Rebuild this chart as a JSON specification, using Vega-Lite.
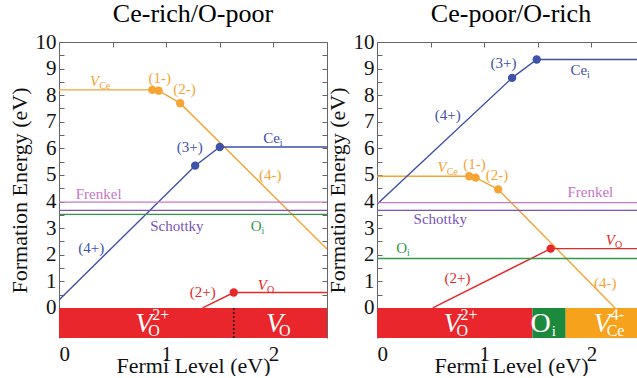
{
  "$schema": "https://vega.github.io/schema/vega-lite/v6.json",
  "padding": {"left": 8, "top": 1, "right": 0, "bottom": 0},
  "config": {
    "font": "Liberation Serif",
    "view": {"stroke": null},
    "axis": {"domainColor": "#666", "tickColor": "#666", "labelColor": "#111", "titleColor": "#111", "grid": false, "labelFont": "Liberation Serif", "titleFont": "Liberation Serif", "titleFontWeight": "normal"},
    "title": {"font": "Liberation Serif", "fontWeight": "normal"},
    "text": {"font": "Liberation Serif"}
  },
  "datasets": {
    "L_lines": [
      {"s": "VCe", "x": 0, "y": 8.2}, {"s": "VCe", "x": 0.87, "y": 8.2}, {"s": "VCe", "x": 0.93, "y": 8.17}, {"s": "VCe", "x": 1.13, "y": 7.7}, {"s": "VCe", "x": 2.5, "y": 2.22},
      {"s": "Cei", "x": 0, "y": 0.3}, {"s": "Cei", "x": 1.27, "y": 5.35}, {"s": "Cei", "x": 1.5, "y": 6.05}, {"s": "Cei", "x": 2.5, "y": 6.05},
      {"s": "VO", "x": 1.34, "y": 0}, {"s": "VO", "x": 1.63, "y": 0.58}, {"s": "VO", "x": 2.5, "y": 0.58},
      {"s": "Frenkel", "x": 0, "y": 3.98}, {"s": "Frenkel", "x": 2.5, "y": 3.98},
      {"s": "Schottky", "x": 0, "y": 3.67}, {"s": "Schottky", "x": 2.5, "y": 3.67},
      {"s": "Oi", "x": 0, "y": 3.52}, {"s": "Oi", "x": 2.5, "y": 3.52}
    ],
    "L_pts": [
      {"s": "VCe", "x": 0.87, "y": 8.2}, {"s": "VCe", "x": 0.93, "y": 8.17}, {"s": "VCe", "x": 1.13, "y": 7.7},
      {"s": "Cei", "x": 1.27, "y": 5.35}, {"s": "Cei", "x": 1.5, "y": 6.05},
      {"s": "VO", "x": 1.63, "y": 0.58}
    ],
    "L_ann": [
      {"s": "VCe", "x": 0.94, "y": 8.65, "label": "(1-)"},
      {"s": "VCe", "x": 1.17, "y": 8.25, "label": "(2-)"},
      {"s": "VCe", "x": 1.97, "y": 5.0, "label": "(4-)"},
      {"s": "Cei", "x": 1.22, "y": 6.04, "label": "(3+)"},
      {"s": "Cei", "x": 0.3, "y": 2.24, "label": "(4+)"},
      {"s": "VO", "x": 1.34, "y": 0.6, "label": "(2+)"},
      {"s": "Frenkel", "x": 0.37, "y": 4.3, "label": "Frenkel"},
      {"s": "Schottky", "x": 1.1, "y": 3.1, "label": "Schottky"}
    ],
    "L_cmp": [
      {"s": "VCe", "x": 0.375, "y": 8.55, "main": "V", "sub": "Ce", "it": 1},
      {"s": "Cei", "x": 2.06, "y": 6.4, "main": "Ce", "sub": "i", "it": 0},
      {"s": "Oi", "x": 1.89, "y": 3.1, "main": "O", "sub": "i", "it": 0},
      {"s": "VO", "x": 1.94, "y": 0.85, "main": "V", "sub": "O", "it": 1}
    ],
    "L_band": [
      {"b": "bVO", "x0": 0, "x1": 2.5}
    ],
    "L_div": [{"x": 1.63}],
    "L_btxt": [
      {"x": 0.87, "main": "V", "sub": "O", "sup": "2+", "it": 1},
      {"x": 2.09, "main": "V", "sub": "O", "sup": "", "it": 1}
    ],
    "R_lines": [
      {"s": "VCe", "x": 0, "y": 4.95}, {"s": "VCe", "x": 0.86, "y": 4.95}, {"s": "VCe", "x": 0.92, "y": 4.9}, {"s": "VCe", "x": 1.13, "y": 4.46}, {"s": "VCe", "x": 2.22, "y": 0},
      {"s": "Cei", "x": 0, "y": 3.9}, {"s": "Cei", "x": 1.26, "y": 8.65}, {"s": "Cei", "x": 1.49, "y": 9.34}, {"s": "Cei", "x": 2.5, "y": 9.34},
      {"s": "VO", "x": 0.52, "y": 0}, {"s": "VO", "x": 1.62, "y": 2.23}, {"s": "VO", "x": 2.5, "y": 2.23},
      {"s": "Frenkel", "x": 0, "y": 3.96}, {"s": "Frenkel", "x": 2.5, "y": 3.96},
      {"s": "Schottky", "x": 0, "y": 3.67}, {"s": "Schottky", "x": 2.5, "y": 3.67},
      {"s": "Oi", "x": 0, "y": 1.86}, {"s": "Oi", "x": 2.5, "y": 1.86}
    ],
    "R_pts": [
      {"s": "VCe", "x": 0.86, "y": 4.95}, {"s": "VCe", "x": 0.92, "y": 4.9}, {"s": "VCe", "x": 1.13, "y": 4.46},
      {"s": "Cei", "x": 1.26, "y": 8.65}, {"s": "Cei", "x": 1.49, "y": 9.34},
      {"s": "VO", "x": 1.62, "y": 2.23}
    ],
    "R_ann": [
      {"s": "Cei", "x": 1.18, "y": 9.2, "label": "(3+)"},
      {"s": "Cei", "x": 0.66, "y": 7.24, "label": "(4+)"},
      {"s": "VCe", "x": 0.91, "y": 5.43, "label": "(1-)"},
      {"s": "VCe", "x": 1.12, "y": 4.99, "label": "(2-)"},
      {"s": "VCe", "x": 2.13, "y": 0.93, "label": "(4-)"},
      {"s": "VO", "x": 0.75, "y": 1.12, "label": "(2+)"},
      {"s": "Frenkel", "x": 1.99, "y": 4.35, "label": "Frenkel"},
      {"s": "Schottky", "x": 0.59, "y": 3.33, "label": "Schottky"}
    ],
    "R_cmp": [
      {"s": "Cei", "x": 1.96, "y": 8.93, "main": "Ce", "sub": "i", "it": 0},
      {"s": "VCe", "x": 0.65, "y": 5.3, "main": "V", "sub": "Ce", "it": 1},
      {"s": "Oi", "x": 0.28, "y": 2.24, "main": "O", "sub": "i", "it": 0},
      {"s": "VO", "x": 2.22, "y": 2.55, "main": "V", "sub": "O", "it": 1}
    ],
    "R_band": [
      {"b": "bVO", "x0": 0, "x1": 1.45},
      {"b": "bOi", "x0": 1.45, "x1": 1.76},
      {"b": "bVCe", "x0": 1.76, "x1": 2.5}
    ],
    "R_btxt": [
      {"x": 0.78, "main": "V", "sub": "O", "sup": "2+", "it": 1},
      {"x": 1.62, "main": "O", "sub": "i", "sup": "", "it": 0},
      {"x": 2.18, "main": "V", "sub": "Ce", "sup": "4-", "it": 1}
    ]
  },
  "spacing": -2,
  "hconcat": [
    {
      "width": 268, "height": 296,
      "title": {"text": "Ce-rich/O-poor", "frame": "group", "anchor": "middle", "fontSize": 26, "offset": 4},
      "layer": [
        {
          "data": {"name": "L_band"},
          "mark": {"type": "rect"},
          "encoding": {
            "x": {"field": "x0", "type": "quantitative", "scale": {"domain": [0, 2.5], "nice": false}, "axis": {"orient": "bottom", "values": [0, 1, 2], "format": "d", "ticks": false, "domain": false, "labelFontSize": 21, "labelPadding": 5, "title": "Fermi Level (eV)", "titleFontSize": 22, "titlePadding": -9}},
            "x2": {"field": "x1"},
            "y": {"datum": 0, "type": "quantitative", "scale": {"domain": [-1.13, 10], "nice": false, "zero": false}, "axis": {"orient": "left", "values": [0, 0.5, 1, 1.5, 2, 2.5, 3, 3.5, 4, 4.5, 5, 5.5, 6, 6.5, 7, 7.5, 8, 8.5, 9, 9.5, 10], "labelExpr": "datum.value % 1 == 0 ? format(datum.value, 'd') : ''", "tickSize": -5, "labelFontSize": 21, "labelPadding": 8, "title": "Formation Energy (eV)", "titleFontSize": 22, "titlePadding": 4}},
            "y2": {"datum": -1.13},
            "fill": {"field": "b", "type": "nominal", "scale": {"domain": ["bVO", "bOi", "bVCe"], "range": ["#e8262b", "#1c8a3d", "#f6a21d"]}, "legend": null}
          }
        },
        {
          "data": {"name": "L_lines"},
          "mark": {"type": "line", "strokeWidth": 1.4, "clip": true},
          "encoding": {
            "x": {"field": "x", "type": "quantitative", "axis": null},
            "y": {"field": "y", "type": "quantitative", "axis": null},
            "color": {"field": "s", "type": "nominal", "scale": {"domain": ["VCe", "Cei", "VO", "Frenkel", "Schottky", "Oi"], "range": ["#f4a534", "#3f51a8", "#e5282a", "#c877c6", "#7a52b8", "#2f9a48"]}, "legend": null}
          }
        },
        {
          "data": {"name": "L_pts"},
          "mark": {"type": "circle", "size": 70, "opacity": 1},
          "encoding": {
            "x": {"field": "x", "type": "quantitative", "axis": {"orient": "top", "values": [0, 0.5, 1, 1.5, 2, 2.5], "labels": false, "tickSize": -5, "title": null}},
            "y": {"field": "y", "type": "quantitative", "axis": {"orient": "right", "values": [0, 0.5, 1, 1.5, 2, 2.5, 3, 3.5, 4, 4.5, 5, 5.5, 6, 6.5, 7, 7.5, 8, 8.5, 9, 9.5, 10], "labels": false, "tickSize": -5, "title": null}},
            "color": {"field": "s", "type": "nominal", "legend": null}
          }
        },
        {
          "data": {"name": "L_ann"},
          "mark": {"type": "text", "fontSize": 15, "baseline": "middle"},
          "encoding": {
            "x": {"field": "x", "type": "quantitative", "axis": null},
            "y": {"field": "y", "type": "quantitative", "axis": null},
            "text": {"field": "label"},
            "color": {"field": "s", "type": "nominal", "legend": null}
          }
        },
        {
          "data": {"name": "L_cmp"},
          "transform": [{"filter": "datum.it == 1"}],
          "mark": {"type": "text", "fontSize": 15, "fontStyle": "italic", "align": "right", "baseline": "middle"},
          "encoding": {
            "x": {"field": "x", "type": "quantitative", "axis": null},
            "y": {"field": "y", "type": "quantitative", "axis": null},
            "text": {"field": "main"},
            "color": {"field": "s", "type": "nominal", "legend": null}
          }
        },
        {
          "data": {"name": "L_cmp"},
          "transform": [{"filter": "datum.it == 0"}],
          "mark": {"type": "text", "fontSize": 15, "align": "right", "baseline": "middle"},
          "encoding": {
            "x": {"field": "x", "type": "quantitative", "axis": null},
            "y": {"field": "y", "type": "quantitative", "axis": null},
            "text": {"field": "main"},
            "color": {"field": "s", "type": "nominal", "legend": null}
          }
        },
        {
          "data": {"name": "L_cmp"},
          "mark": {"type": "text", "fontSize": 10, "align": "left", "baseline": "middle", "dy": 5},
          "encoding": {
            "x": {"field": "x", "type": "quantitative", "axis": null},
            "y": {"field": "y", "type": "quantitative", "axis": null},
            "text": {"field": "sub"},
            "color": {"field": "s", "type": "nominal", "legend": null}
          }
        },
        {
          "data": {"name": "L_div"},
          "mark": {"type": "rule", "strokeDash": [2, 2], "strokeWidth": 1.5, "color": "#111"},
          "encoding": {"x": {"field": "x", "type": "quantitative", "axis": null}, "y": {"datum": 0, "type": "quantitative", "axis": null}, "y2": {"datum": -1.13}}
        },
        {
          "data": {"name": "L_btxt"},
          "mark": {"type": "text", "fontSize": 28, "fontStyle": "italic", "align": "right", "baseline": "middle", "color": "white", "dy": 1},
          "encoding": {"x": {"field": "x", "type": "quantitative", "axis": null}, "y": {"datum": -0.56, "type": "quantitative", "axis": null}, "text": {"field": "main"}}
        },
        {
          "data": {"name": "L_btxt"},
          "mark": {"type": "text", "fontSize": 16, "align": "left", "baseline": "middle", "color": "white", "dy": 8, "dx": -4},
          "encoding": {"x": {"field": "x", "type": "quantitative", "axis": null}, "y": {"datum": -0.56, "type": "quantitative", "axis": null}, "text": {"field": "sub"}}
        },
        {
          "data": {"name": "L_btxt"},
          "mark": {"type": "text", "fontSize": 16, "align": "left", "baseline": "middle", "color": "white", "dy": -8, "dx": 0},
          "encoding": {"x": {"field": "x", "type": "quantitative", "axis": null}, "y": {"datum": -0.56, "type": "quantitative", "axis": null}, "text": {"field": "sup"}}
        }
      ],
      "resolve": {"axis": {"x": "independent", "y": "independent"}}
    },
    {
      "width": 268, "height": 296,
      "title": {"text": "Ce-poor/O-rich", "frame": "group", "anchor": "middle", "fontSize": 26, "offset": 4},
      "layer": [
        {
          "data": {"name": "R_band"},
          "mark": {"type": "rect"},
          "encoding": {
            "x": {"field": "x0", "type": "quantitative", "scale": {"domain": [0, 2.5], "nice": false}, "axis": {"orient": "bottom", "values": [0, 1, 2], "format": "d", "ticks": false, "domain": false, "labelFontSize": 21, "labelPadding": 5, "title": "Fermi Level (eV)", "titleFontSize": 22, "titlePadding": -9}},
            "x2": {"field": "x1"},
            "y": {"datum": 0, "type": "quantitative", "scale": {"domain": [-1.13, 10], "nice": false, "zero": false}, "axis": {"orient": "left", "values": [0, 0.5, 1, 1.5, 2, 2.5, 3, 3.5, 4, 4.5, 5, 5.5, 6, 6.5, 7, 7.5, 8, 8.5, 9, 9.5, 10], "labelExpr": "datum.value % 1 == 0 ? format(datum.value, 'd') : ''", "tickSize": -5, "labelFontSize": 21, "labelPadding": 8, "title": "Formation Energy (eV)", "titleFontSize": 22, "titlePadding": 4}},
            "y2": {"datum": -1.13},
            "fill": {"field": "b", "type": "nominal", "scale": {"domain": ["bVO", "bOi", "bVCe"], "range": ["#e8262b", "#1c8a3d", "#f6a21d"]}, "legend": null}
          }
        },
        {
          "data": {"name": "R_lines"},
          "mark": {"type": "line", "strokeWidth": 1.4, "clip": true},
          "encoding": {
            "x": {"field": "x", "type": "quantitative", "axis": null},
            "y": {"field": "y", "type": "quantitative", "axis": null},
            "color": {"field": "s", "type": "nominal", "scale": {"domain": ["VCe", "Cei", "VO", "Frenkel", "Schottky", "Oi"], "range": ["#f4a534", "#3f51a8", "#e5282a", "#c877c6", "#7a52b8", "#2f9a48"]}, "legend": null}
          }
        },
        {
          "data": {"name": "R_pts"},
          "mark": {"type": "circle", "size": 70, "opacity": 1},
          "encoding": {
            "x": {"field": "x", "type": "quantitative", "axis": {"orient": "top", "values": [0, 0.5, 1, 1.5, 2, 2.5], "labels": false, "tickSize": -5, "title": null}},
            "y": {"field": "y", "type": "quantitative", "axis": {"orient": "right", "values": [0, 0.5, 1, 1.5, 2, 2.5, 3, 3.5, 4, 4.5, 5, 5.5, 6, 6.5, 7, 7.5, 8, 8.5, 9, 9.5, 10], "labels": false, "tickSize": -5, "title": null}},
            "color": {"field": "s", "type": "nominal", "legend": null}
          }
        },
        {
          "data": {"name": "R_ann"},
          "mark": {"type": "text", "fontSize": 15, "baseline": "middle"},
          "encoding": {
            "x": {"field": "x", "type": "quantitative", "axis": null},
            "y": {"field": "y", "type": "quantitative", "axis": null},
            "text": {"field": "label"},
            "color": {"field": "s", "type": "nominal", "legend": null}
          }
        },
        {
          "data": {"name": "R_cmp"},
          "transform": [{"filter": "datum.it == 1"}],
          "mark": {"type": "text", "fontSize": 15, "fontStyle": "italic", "align": "right", "baseline": "middle"},
          "encoding": {
            "x": {"field": "x", "type": "quantitative", "axis": null},
            "y": {"field": "y", "type": "quantitative", "axis": null},
            "text": {"field": "main"},
            "color": {"field": "s", "type": "nominal", "legend": null}
          }
        },
        {
          "data": {"name": "R_cmp"},
          "transform": [{"filter": "datum.it == 0"}],
          "mark": {"type": "text", "fontSize": 15, "align": "right", "baseline": "middle"},
          "encoding": {
            "x": {"field": "x", "type": "quantitative", "axis": null},
            "y": {"field": "y", "type": "quantitative", "axis": null},
            "text": {"field": "main"},
            "color": {"field": "s", "type": "nominal", "legend": null}
          }
        },
        {
          "data": {"name": "R_cmp"},
          "mark": {"type": "text", "fontSize": 10, "align": "left", "baseline": "middle", "dy": 5},
          "encoding": {
            "x": {"field": "x", "type": "quantitative", "axis": null},
            "y": {"field": "y", "type": "quantitative", "axis": null},
            "text": {"field": "sub"},
            "color": {"field": "s", "type": "nominal", "legend": null}
          }
        },
        {
          "data": {"name": "R_btxt"},
          "transform": [{"filter": "datum.it == 1"}],
          "mark": {"type": "text", "fontSize": 28, "fontStyle": "italic", "align": "right", "baseline": "middle", "color": "white", "dy": 1},
          "encoding": {"x": {"field": "x", "type": "quantitative", "axis": null}, "y": {"datum": -0.56, "type": "quantitative", "axis": null}, "text": {"field": "main"}}
        },
        {
          "data": {"name": "R_btxt"},
          "transform": [{"filter": "datum.it == 0"}],
          "mark": {"type": "text", "fontSize": 28, "align": "right", "baseline": "middle", "color": "white", "dy": 1},
          "encoding": {"x": {"field": "x", "type": "quantitative", "axis": null}, "y": {"datum": -0.56, "type": "quantitative", "axis": null}, "text": {"field": "main"}}
        },
        {
          "data": {"name": "R_btxt"},
          "transform": [{"filter": "datum.it == 1"}],
          "mark": {"type": "text", "fontSize": 16, "align": "left", "baseline": "middle", "color": "white", "dy": 8, "dx": -4},
          "encoding": {"x": {"field": "x", "type": "quantitative", "axis": null}, "y": {"datum": -0.56, "type": "quantitative", "axis": null}, "text": {"field": "sub"}}
        },
        {
          "data": {"name": "R_btxt"},
          "transform": [{"filter": "datum.it == 0"}],
          "mark": {"type": "text", "fontSize": 15, "align": "left", "baseline": "middle", "color": "white", "dy": 8, "dx": 1},
          "encoding": {"x": {"field": "x", "type": "quantitative", "axis": null}, "y": {"datum": -0.56, "type": "quantitative", "axis": null}, "text": {"field": "sub"}}
        },
        {
          "data": {"name": "R_btxt"},
          "mark": {"type": "text", "fontSize": 16, "align": "left", "baseline": "middle", "color": "white", "dy": -8, "dx": 0},
          "encoding": {"x": {"field": "x", "type": "quantitative", "axis": null}, "y": {"datum": -0.56, "type": "quantitative", "axis": null}, "text": {"field": "sup"}}
        }
      ],
      "resolve": {"axis": {"x": "independent", "y": "independent"}}
    }
  ]
}
